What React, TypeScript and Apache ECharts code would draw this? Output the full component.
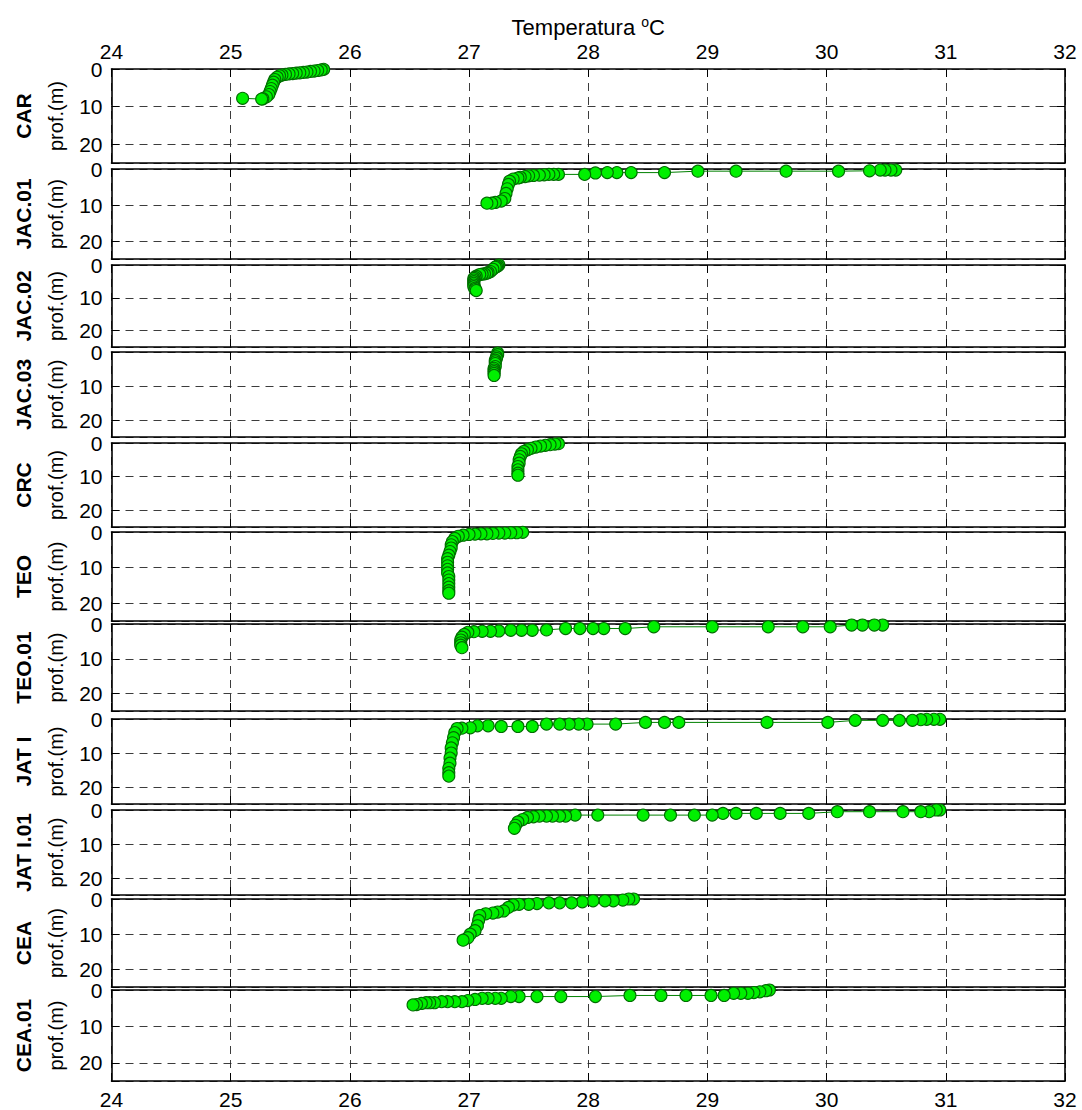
import React, { useEffect, useRef } from 'react';
import * as echarts from 'echarts';

const stationNames = ['CAR', 'JAC.01', 'JAC.02', 'JAC.03', 'CRC', 'TEO', 'TEO.01', 'JAT I', 'JAT I.01', 'CEA', 'CEA.01'];

const xTicks = [24, 25, 26, 27, 28, 29, 30, 31, 32];
const yTicks = [0, 10, 20];

const carTemp = [25.78, 25.76, 25.73, 25.70, 25.67, 25.64, 25.61, 25.58, 25.55, 25.52, 25.49, 25.46, 25.43, 25.41, 25.39, 25.37, 25.36, 25.35, 25.34, 25.33, 25.32, 25.30, 25.27, 25.26, 25.10];
const carDepth = [0.1, 0.25, 0.4, 0.55, 0.65, 0.8, 0.9, 1.0, 1.1, 1.2, 1.3, 1.45, 1.6, 1.8, 2.2, 2.8, 3.5, 4.3, 5.2, 6.0, 6.8, 7.4, 7.9, 8.0, 7.8];

const jac01Temp = [30.58, 30.54, 30.49, 30.45, 30.36, 30.10, 29.66, 29.24, 28.92, 28.64, 28.36, 28.24, 28.16, 28.06, 27.97, 27.75, 27.71, 27.67, 27.63, 27.59, 27.54, 27.50, 27.47, 27.43, 27.41, 27.37, 27.34, 27.33, 27.32, 27.31, 27.30, 27.27, 27.22, 27.19, 27.15];
const jac01Depth = [0.3, 0.3, 0.3, 0.3, 0.5, 0.6, 0.6, 0.6, 0.6, 1.0, 1.0, 1.0, 1.0, 1.1, 1.5, 1.5, 1.5, 1.5, 1.6, 1.7, 1.8, 1.9, 2.1, 2.3, 2.5, 2.8, 3.4, 4.3, 5.5, 6.8, 8.2, 8.9, 9.3, 9.5, 9.5];

const jac02Temp = [27.25, 27.24, 27.23, 27.22, 27.20, 27.18, 27.16, 27.15, 27.13, 27.11, 27.09, 27.06, 27.05, 27.04, 27.04, 27.04, 27.04, 27.04, 27.04, 27.05, 27.05, 27.06];
const jac02Depth = [0.0, 0.3, 0.5, 0.7, 1.3, 2.0, 2.3, 2.5, 2.7, 2.8, 2.9, 3.4, 3.8, 4.1, 4.6, 5.1, 5.6, 6.1, 6.6, 7.1, 7.5, 7.8];

const jac03Temp = [27.24, 27.24, 27.23, 27.23, 27.22, 27.22, 27.22, 27.22, 27.21, 27.21, 27.21, 27.21, 27.21];
const jac03Depth = [0.3, 0.8, 1.4, 1.9, 2.4, 2.9, 3.4, 4.3, 4.8, 5.3, 5.8, 6.3, 6.9];

const crcTemp = [27.75, 27.72, 27.68, 27.64, 27.60, 27.56, 27.52, 27.49, 27.46, 27.44, 27.43, 27.42, 27.42, 27.41, 27.41, 27.41, 27.41];
const crcDepth = [0.2, 0.3, 0.5, 0.7, 0.9, 1.2, 1.6, 2.0, 2.5, 3.2, 4.0, 5.0, 6.0, 7.0, 8.0, 9.0, 9.6];

const teoTemp = [27.45, 27.40, 27.35, 27.30, 27.25, 27.20, 27.15, 27.10, 27.05, 27.00, 26.95, 26.91, 26.88, 26.86, 26.85, 26.85, 26.84, 26.83, 26.82, 26.82, 26.82, 26.82, 26.82, 26.83, 26.83, 26.83, 26.83, 26.83, 26.83];
const teoDepth = [0.1, 0.2, 0.2, 0.3, 0.3, 0.4, 0.5, 0.5, 0.6, 0.7, 0.9, 1.2, 1.8, 2.7, 3.6, 4.5, 5.5, 6.5, 7.5, 8.5, 9.5, 10.5, 11.5, 12.5, 13.5, 14.5, 15.5, 16.5, 17.2];

const teo01Temp = [30.47, 30.40, 30.30, 30.21, 30.03, 29.80, 29.51, 29.04, 28.55, 28.31, 28.13, 28.04, 27.93, 27.81, 27.65, 27.53, 27.44, 27.35, 27.25, 27.18, 27.11, 27.04, 26.99, 26.96, 26.94, 26.93, 26.93, 26.93, 26.94];
const teo01Depth = [0.3, 0.3, 0.3, 0.3, 0.8, 0.8, 0.8, 0.8, 0.8, 1.3, 1.3, 1.3, 1.3, 1.3, 1.7, 1.8, 1.8, 1.8, 2.0, 2.1, 2.1, 2.2, 2.4, 3.0, 3.8, 4.6, 5.4, 6.1, 6.8];

const jatTemp = [30.95, 30.90, 30.84, 30.79, 30.72, 30.61, 30.47, 30.24, 30.01, 29.50, 28.76, 28.64, 28.48, 28.23, 27.99, 27.92, 27.84, 27.76, 27.65, 27.53, 27.41, 27.27, 27.16, 27.07, 27.01, 26.94, 26.90, 26.88, 26.87, 26.86, 26.85, 26.85, 26.84, 26.84, 26.83, 26.83, 26.83];
const jatDepth = [0.1, 0.1, 0.1, 0.2, 0.4, 0.4, 0.4, 0.4, 1.0, 1.0, 1.0, 1.0, 1.0, 1.5, 1.5, 1.5, 1.5, 1.5, 1.5, 2.2, 2.2, 2.2, 2.0, 2.0, 2.6, 2.7, 2.8, 4.0, 5.5, 7.0, 8.5, 10.0, 11.5, 13.0, 14.5, 15.8, 16.8];

const jat01Temp = [30.95, 30.92, 30.86, 30.79, 30.64, 30.36, 30.09, 29.85, 29.61, 29.41, 29.24, 29.13, 29.04, 28.89, 28.69, 28.46, 28.08, 27.89, 27.81, 27.76, 27.70, 27.65, 27.59, 27.54, 27.49, 27.45, 27.41, 27.39, 27.38];
const jat01Depth = [0.0, 0.0, 0.5, 0.5, 0.5, 0.5, 0.5, 1.0, 1.0, 1.0, 1.0, 1.0, 1.5, 1.5, 1.5, 1.5, 1.5, 1.5, 1.8, 1.8, 1.8, 1.8, 1.8, 2.0, 2.2, 2.8, 3.5, 4.5, 5.4];

const ceaTemp = [28.38, 28.34, 28.29, 28.21, 28.14, 28.04, 27.95, 27.86, 27.76, 27.67, 27.57, 27.50, 27.42, 27.37, 27.33, 27.29, 27.24, 27.20, 27.14, 27.09, 27.08, 27.07, 27.05, 27.01, 26.99, 26.95];
const ceaDepth = [0.0, 0.0, 0.3, 0.5, 0.5, 0.5, 0.8, 1.1, 1.1, 1.1, 1.3, 1.5, 1.5, 1.7, 2.4, 3.4, 3.7, 4.0, 4.2, 4.7, 6.1, 7.6, 9.0, 10.0, 11.0, 11.7];

const cea01Temp = [29.52, 29.49, 29.44, 29.39, 29.34, 29.28, 29.22, 29.14, 29.03, 28.82, 28.61, 28.35, 28.06, 27.77, 27.57, 27.42, 27.35, 27.27, 27.22, 27.16, 27.11, 27.05, 26.99, 26.94, 26.88, 26.82, 26.77, 26.71, 26.67, 26.64, 26.60, 26.56, 26.53];
const cea01Depth = [0.0, 0.2, 0.5, 0.7, 0.9, 0.9, 0.9, 1.5, 1.5, 1.5, 1.5, 1.5, 1.8, 1.8, 1.8, 1.8, 1.8, 2.3, 2.3, 2.3, 2.3, 2.6, 2.9, 3.2, 3.2, 3.2, 3.2, 3.5, 3.5, 3.5, 3.7, 4.0, 4.1];

const stationTemps = [carTemp, jac01Temp, jac02Temp, jac03Temp, crcTemp, teoTemp, teo01Temp, jatTemp, jat01Temp, ceaTemp, cea01Temp];
const stationDepths = [carDepth, jac01Depth, jac02Depth, jac03Depth, crcDepth, teoDepth, teo01Depth, jatDepth, jat01Depth, ceaDepth, cea01Depth];

// layout (pixels)
const PLOT_LEFT = 111.5;
const PLOT_RIGHT = 1065;
const panelTops = [69, 169, 265, 352, 443, 532, 624, 719, 810, 899, 990];
const panelBottoms = [163, 259, 347, 437, 527, 621, 711, 804, 895, 987, 1081];

const FONT = '"Liberation Sans", Arial, Helvetica, sans-serif';

export default function App() {
  const ref = useRef<HTMLDivElement>(null);

  useEffect(() => {
    document.body.style.margin = '0';
    if (!ref.current) return;
    const chart = echarts.init(ref.current, undefined, { renderer: 'svg' });
    const n = stationNames.length;
    const grids: any[] = [];
    const xAxes: any[] = [];
    const yAxes: any[] = [];
    const series: any[] = [];
    const graphics: any[] = [];
    const axisLine = { show: true, onZero: false, lineStyle: { color: '#000', width: 1.6 } };
    const axisTick = { show: true, inside: true, length: 8, lineStyle: { color: '#000', width: 1 } };
    const gridLine = { show: true, lineStyle: { color: '#262626', width: 0.9, type: [8, 6] } };

    for (let i = 0; i < n; i++) {
      const top = panelTops[i];
      const height = panelBottoms[i] - panelTops[i];
      grids.push({ left: PLOT_LEFT, width: PLOT_RIGHT - PLOT_LEFT, top, height, show: false });
      const xBase = {
        gridIndex: i, type: 'value', min: xTicks[0], max: xTicks[xTicks.length - 1], interval: 1,
        axisLine, axisTick,
      };
      xAxes.push({
        ...xBase, position: 'bottom',
        axisLabel: { show: i === n - 1, fontSize: 21, color: '#000', margin: 8, fontFamily: FONT },
        splitLine: gridLine,
      });
      xAxes.push({
        ...xBase, position: 'top',
        axisLabel: { show: i === 0, fontSize: 21, color: '#000', margin: 7, fontFamily: FONT },
        splitLine: { show: false },
      });
      const yBase = {
        gridIndex: i, type: 'value', inverse: true, min: 0, max: 25, interval: 10,
        axisLine, axisTick,
      };
      yAxes.push({
        ...yBase, position: 'left',
        axisLabel: {
          show: true, fontSize: 21, color: '#000', margin: 9, fontFamily: FONT,
          formatter: (v: number) => (yTicks.indexOf(v) >= 0 ? String(v) : ''),
        },
        splitLine: gridLine,
      });
      yAxes.push({
        ...yBase, position: 'right',
        axisLabel: { show: false },
        splitLine: { show: false },
      });
      const temps = stationTemps[i];
      const depths = stationDepths[i];
      series.push({
        type: 'line',
        xAxisIndex: 2 * i,
        yAxisIndex: 2 * i,
        data: temps.map((t, j) => [t, depths[j]]),
        symbol: 'circle',
        symbolSize: 12,
        showSymbol: true,
        clip: false,
        itemStyle: { color: '#00f000', borderColor: '#006e00', borderWidth: 1.1 },
        lineStyle: { color: '#008000', width: 1 },
        emphasis: { disabled: true },
        silent: true,
      });
      const cy = (top + panelBottoms[i]) / 2;
      graphics.push({
        type: 'text', x: 23, y: cy, rotation: Math.PI / 2,
        style: {
          text: stationNames[i], fontSize: 21, fontWeight: 'bold', fontFamily: FONT, fill: '#000',
          align: 'center', verticalAlign: 'middle', textAlign: 'center', textVerticalAlign: 'middle',
        },
      });
      graphics.push({
        type: 'text', x: 56, y: cy, rotation: Math.PI / 2,
        style: {
          text: 'prof.(m)', fontSize: 20, fontFamily: FONT, fill: '#000',
          align: 'center', verticalAlign: 'middle', textAlign: 'center', textVerticalAlign: 'middle',
        },
      });
    }

    graphics.push({
      type: 'text', x: (PLOT_LEFT + PLOT_RIGHT) / 2, y: 27,
      style: {
        text: '{a|Temperatura }{s|o}{a|C}',
        rich: {
          a: { fontSize: 22, fontFamily: FONT, fill: '#000', color: '#000', lineHeight: 24 },
          s: { fontSize: 14, fontFamily: FONT, fill: '#000', color: '#000', verticalAlign: 'top', lineHeight: 14 },
        },
        align: 'center', verticalAlign: 'middle', textAlign: 'center', textVerticalAlign: 'middle',
      },
    });

    chart.setOption({
      animation: false,
      backgroundColor: '#fff',
      grid: grids,
      xAxis: xAxes,
      yAxis: yAxes,
      series,
      graphic: { elements: graphics },
    });
    return () => chart.dispose();
  }, []);

  return <div ref={ref} style={{ width: 1082, height: 1110 }} />;
}
